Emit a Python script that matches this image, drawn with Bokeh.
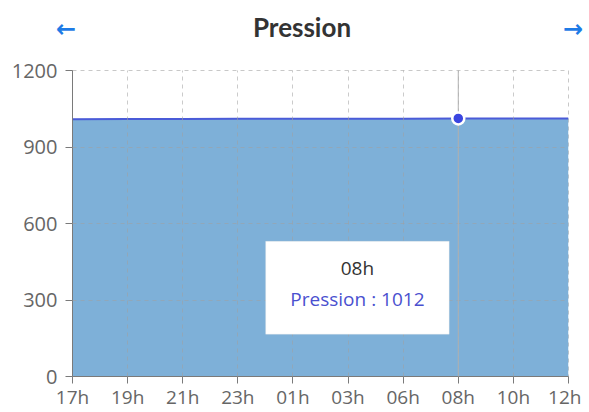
from bokeh.plotting import figure
from bokeh.layouts import column
from bokeh.models import (FixedTicker, Label, Range1d, ColumnDataSource, Span, Div,
                          BoxAnnotation)
from bokeh.embed import file_html
from bokeh.resources import INLINE

hours = ["17h", "19h", "21h", "23h", "01h", "03h", "06h", "08h", "10h", "12h"]
pression = [1009, 1010, 1010, 1011, 1011, 1011, 1011, 1012, 1012, 1012]
y_ticks = [0, 300, 600, 900, 1200]
highlight = 7
title_text = "Pression"

W = 581
HEAD = 50
TOTAL = 412
xs = list(range(len(hours)))
src = ColumnDataSource(dict(x=xs, y=pression, y0=[0] * len(xs)))

header = Div(width=W, height=HEAD, margin=(0, 0, 0, 0), text=(
    '<div style="position:relative;width:%dpx;height:%dpx;">'
    '<span style="position:absolute;left:0;width:%dpx;top:9px;text-align:center;'
    'font-family:Lato;font-weight:bold;font-size:26px;color:#333;'
    'line-height:36px;">%s</span>'
    '<span style="position:absolute;left:56px;top:15px;font-family:\'DejaVu Sans\';'
    'font-weight:bold;font-size:24px;line-height:28px;color:#1e7be6;">&#8592;</span>'
    '<span style="position:absolute;left:563px;top:15px;font-family:\'DejaVu Sans\';'
    'font-weight:bold;font-size:24px;line-height:28px;color:#1e7be6;">&#8594;</span>'
    '</div>') % (W, HEAD, 604, title_text))

p = figure(width=W, height=TOTAL - HEAD, output_backend="svg", toolbar_location=None,
           x_range=Range1d(0, len(hours) - 1), y_range=Range1d(0, 1200),
           min_border_left=72, min_border_right=13, min_border_top=20, min_border_bottom=28,
           margin=(0, 0, 0, 0))
p.outline_line_color = "#c8c8c8"
p.outline_line_dash = "4 4"
p.background_fill_color = "white"
p.border_fill_color = "white"

p.varea(x="x", y1="y0", y2="y", source=src, fill_color="#7eb0d8", fill_alpha=1.0)
p.line(x="x", y="y", source=src, line_color="#4a5bd8", line_width=2)

for g in (p.xgrid, p.ygrid):
    g.grid_line_color = "#a0a0a0"
    g.grid_line_alpha = 0.55
    g.grid_line_dash = "4 4"
    g.grid_line_width = 1
    g.level = "guide"
p.xaxis.ticker = FixedTicker(ticks=xs)
p.xaxis.major_label_overrides = {i: hh for i, hh in enumerate(hours)}
p.yaxis.ticker = FixedTicker(ticks=y_ticks)
for a in (p.xaxis, p.yaxis):
    a.axis_line_color = "#7a7a7a"
    a.major_tick_line_color = "#7a7a7a"
    a.minor_tick_line_color = None
    a.major_tick_in = 0
    a.major_tick_out = 7
    a.major_label_text_font = "Open Sans"
    a.major_label_text_color = "#666666"
p.yaxis.major_label_text_font_size = "20px"
p.xaxis.major_label_text_font_size = "19px"
p.yaxis.major_label_standoff = 8
p.xaxis.major_label_standoff = 0

# tooltip box
cx = xs[highlight] - 1.83
p.add_layout(BoxAnnotation(left=cx - 1.665, right=cx + 1.665, bottom=166, top=530,
                           fill_color="white", fill_alpha=1.0, line_color="#e2e2e2",
                           line_width=1))
p.add_layout(Label(x=cx, y=426, text=hours[highlight], text_align="center", text_baseline="middle",
                   text_font="Open Sans", text_font_size="19px", text_color="#333333"))
p.add_layout(Label(x=cx, y=302, text=f"Pression : {pression[highlight]}", text_align="center",
                   text_baseline="middle", text_font="Open Sans", text_font_size="19px",
                   text_color="#4a50cf"))

p.add_layout(Span(location=highlight, dimension="height", line_color="#b0b0b0", line_width=1))
pt = p.scatter([xs[highlight]], [pression[highlight]], size=12, fill_color="#3a45e0",
               line_color="white", line_width=2.5)
pt.level = "overlay"

layout = column(header, p, spacing=0)
open("out.html", "w").write(file_html(layout, INLINE))
